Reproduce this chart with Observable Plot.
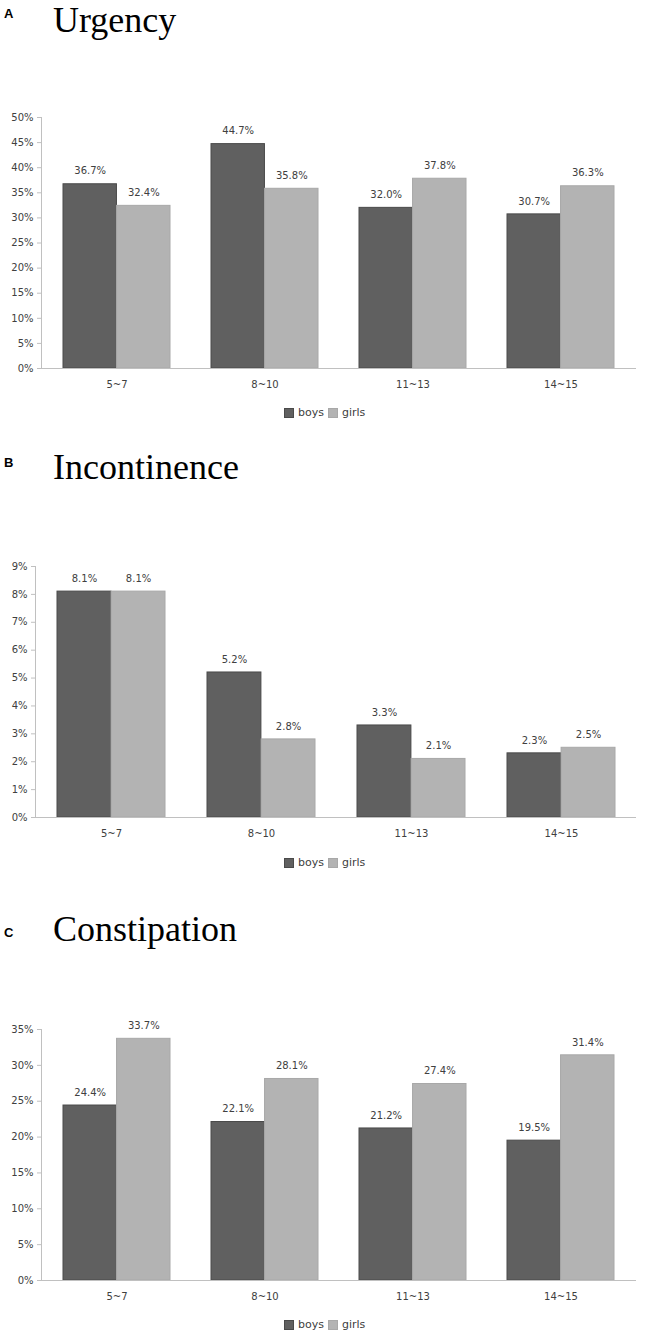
<!DOCTYPE html>
<html><head><meta charset="utf-8">
<script src="https://cdn.jsdelivr.net/npm/d3@7"></script>
<script src="https://cdn.jsdelivr.net/npm/@observablehq/plot@0.6"></script>
<style>
body{margin:0;background:#fff;width:645px;height:1339px;position:relative;overflow:hidden}
.abs{position:absolute}
.letter{font-family:"Liberation Sans",Arial,sans-serif;font-weight:bold;font-size:13px;line-height:13px;color:#000}
.title{font-family:"Liberation Serif","Times New Roman",serif;font-size:36px;line-height:36px;color:#000;white-space:nowrap}
.legend{font-family:"DejaVu Sans",sans-serif;font-size:11px;line-height:12px;height:12px;color:#404040;display:flex;align-items:center;white-space:nowrap}
.sw{width:10px;height:10px;display:inline-block;margin-right:4px;box-sizing:border-box}
</style></head><body>
<script>
const ages = ["5~7", "8~10", "11~13", "14~15"];
const sexes = ["boys", "girls"];
const panelLetters = ["A", "B", "C"];
const panelTitles = ["Urgency", "Incontinence", "Constipation"];

const urgencyBoys = [36.7, 44.7, 32.0, 30.7];
const urgencyGirls = [32.4, 35.8, 37.8, 36.3];
const incontinenceBoys = [8.1, 5.2, 3.3, 2.3];
const incontinenceGirls = [8.1, 2.8, 2.1, 2.5];
const constipationBoys = [24.4, 22.1, 21.2, 19.5];
const constipationGirls = [33.7, 28.1, 27.4, 31.4];

const urgencyTicks = [0, 5, 10, 15, 20, 25, 30, 35, 40, 45, 50];
const incontinenceTicks = [0, 1, 2, 3, 4, 5, 6, 7, 8, 9];
const constipationTicks = [0, 5, 10, 15, 20, 25, 30, 35];

const colors = {boys: "#606060", girls: "#b3b3b3"};
const strokes = {boys: "#4a4a4a", girls: "#a8a8a8"};

function addDiv(cls, top, left, html) {
  const d = document.createElement("div");
  d.className = "abs " + cls;
  d.style.top = top + "px";
  d.style.left = left + "px";
  d.innerHTML = html;
  document.body.appendChild(d);
  return d;
}

function panel(idx, boys, girls, ticks, layout) {
  const width = 645, height = 300, mt = 17, mb = 32, mr = 9;
  const ml = layout.ml;
  const pad = 0.28;
  const bw = (width - ml - mr) / ages.length * (1 - pad);
  const rows = ages.flatMap((a, i) => [
    {age: a, sex: "boys", value: boys[i]},
    {age: a, sex: "girls", value: girls[i]}
  ]);
  const bRows = rows.filter(d => d.sex === "boys");
  const gRows = rows.filter(d => d.sex === "girls");
  const fmt = v => d3.format(".1f")(v) + "%";
  const max = d3.max(ticks);

  const chart = Plot.plot({
    width, height,
    marginLeft: ml, marginRight: mr, marginTop: mt, marginBottom: mb,
    style: {fontFamily: "DejaVu Sans, sans-serif", fontSize: "10px", color: "#404040", background: "#fff"},
    x: {domain: ages, paddingInner: pad, paddingOuter: pad / 2, label: null},
    y: {domain: [0, max], label: null},
    marks: [
      Plot.barY(bRows, {x: "age", y: "value", fill: colors.boys, stroke: strokes.boys, strokeWidth: 1, insetRight: bw / 2}),
      Plot.barY(gRows, {x: "age", y: "value", fill: colors.girls, stroke: strokes.girls, strokeWidth: 1, insetLeft: bw / 2}),
      Plot.text(bRows, {x: "age", y: "value", text: d => fmt(d.value), dx: -bw / 4, dy: -13, fill: "#404040"}),
      Plot.text(gRows, {x: "age", y: "value", text: d => fmt(d.value), dx: bw / 4, dy: -13, fill: "#404040"}),
      Plot.ruleY([0], {stroke: "#c0c0c0"}),
      Plot.frame({anchor: "left", stroke: "#c0c0c0"}),
      Plot.axisY({ticks, tickSize: 4, tickFormat: () => "", stroke: "#c0c0c0", label: null}),
      Plot.axisY({ticks, tickSize: 0, tickPadding: 8, tickFormat: d => d + "%", label: null, fill: "#404040"}),
      Plot.axisX({tickSize: 0, tickPadding: 12, label: null, fill: "#404040"})
    ]
  });
  chart.style.position = "absolute";
  chart.style.top = layout.svgTop + "px";
  chart.style.left = "0px";
  document.body.appendChild(chart);

  addDiv("letter", layout.letterBase - 11, 4, panelLetters[idx]);
  addDiv("title", layout.titleBase - 30, 53, panelTitles[idx]);
  addDiv("legend", layout.legendMid - 6, 284,
    `<span class="sw" style="background:${colors.boys};border:1px solid ${strokes.boys}"></span><span style="margin-right:4px">${sexes[0]}</span>` +
    `<span class="sw" style="background:${colors.girls};border:1px solid ${strokes.girls}"></span><span>${sexes[1]}</span>`);
}

panel(0, urgencyBoys, urgencyGirls, urgencyTicks, {ml: 41, svgTop: 100, letterBase: 18, titleBase: 32, legendMid: 413});
panel(1, incontinenceBoys, incontinenceGirls, incontinenceTicks, {ml: 35, svgTop: 549, letterBase: 467, titleBase: 479, legendMid: 863});
panel(2, constipationBoys, constipationGirls, constipationTicks, {ml: 41, svgTop: 1012, letterBase: 937, titleBase: 941, legendMid: 1325});
</script>
</body></html>
